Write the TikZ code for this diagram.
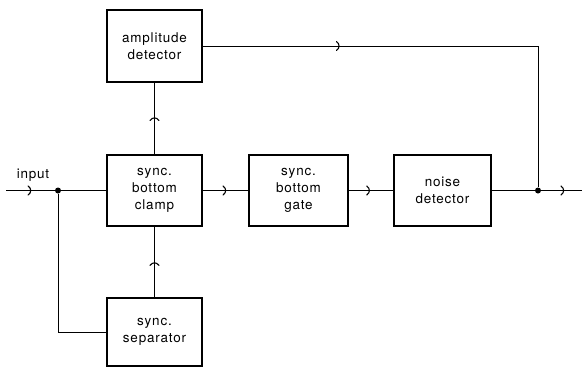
\documentclass[tikz,border=0pt]{standalone}
\usepackage{fontspec}
\setmainfont{TeX Gyre Heros}[LetterSpace=6]
\usetikzlibrary{decorations.markings}
\tikzset{
  blk/.style={draw, line width=1.1bp, inner sep=0pt, align=center,
    font=\fontsize{13.5}{17}\selectfont},
  wire/.style={line width=0.9bp},
  midarrow/.style={postaction={decorate}, decoration={markings,
    mark=at position #1 with {\draw[line width=1.1bp, line cap=round]
      (-2bp,-4.5bp) .. controls (1.5bp,-2bp) and (1.5bp,2bp) .. (-2bp,4.5bp);}}},
  dot/.style={circle, fill, inner sep=0pt, minimum size=6bp}
}
\begin{document}
\begin{tikzpicture}[x=1bp,y=-1bp]
\useasboundingbox (0,0) rectangle (582,368);
\node[blk, minimum width=95bp, minimum height=72bp] (amp) at (154.5,46) {amplitude\\detector};
\node[blk, minimum width=95bp, minimum height=71bp] (clamp) at (154.5,190.5) {sync.\\bottom\\clamp};
\node[blk, minimum width=99bp, minimum height=71bp] (gate) at (298.5,190.5) {sync.\\bottom\\gate};
\node[blk, minimum width=97bp, minimum height=71bp] (noise) at (442.5,190.5) {noise\\detector};
\node[blk, minimum width=95bp, minimum height=68bp] (sep) at (154.5,332) {sync.\\separator};
\node[font=\fontsize{13.5}{14}\selectfont, inner sep=0pt] (inlbl) at (33,175) {input};
\coordinate (in) at (6,190.5);
\coordinate (out) at (582,190.5);
\node[dot] (tap) at (58,190.5) {};
\node[dot] (join) at (538,190.5) {};
\draw[wire, midarrow=0.24] (in) -- (clamp.west);
\draw[wire] (tap) |- (sep.west);
\draw[wire, midarrow=0.48] (sep.north) -- (clamp.south);
\draw[wire, midarrow=0.5] (clamp.north) -- (amp.south);
\draw[wire, midarrow=0.49] (clamp.east) -- (gate.west);
\draw[wire, midarrow=0.45] (gate.east) -- (noise.west);
\draw[wire, midarrow=0.79] (noise.east) -- (out);
\draw[wire, midarrow=0.285] (amp.east) -| (join);
\end{tikzpicture}
\end{document}
